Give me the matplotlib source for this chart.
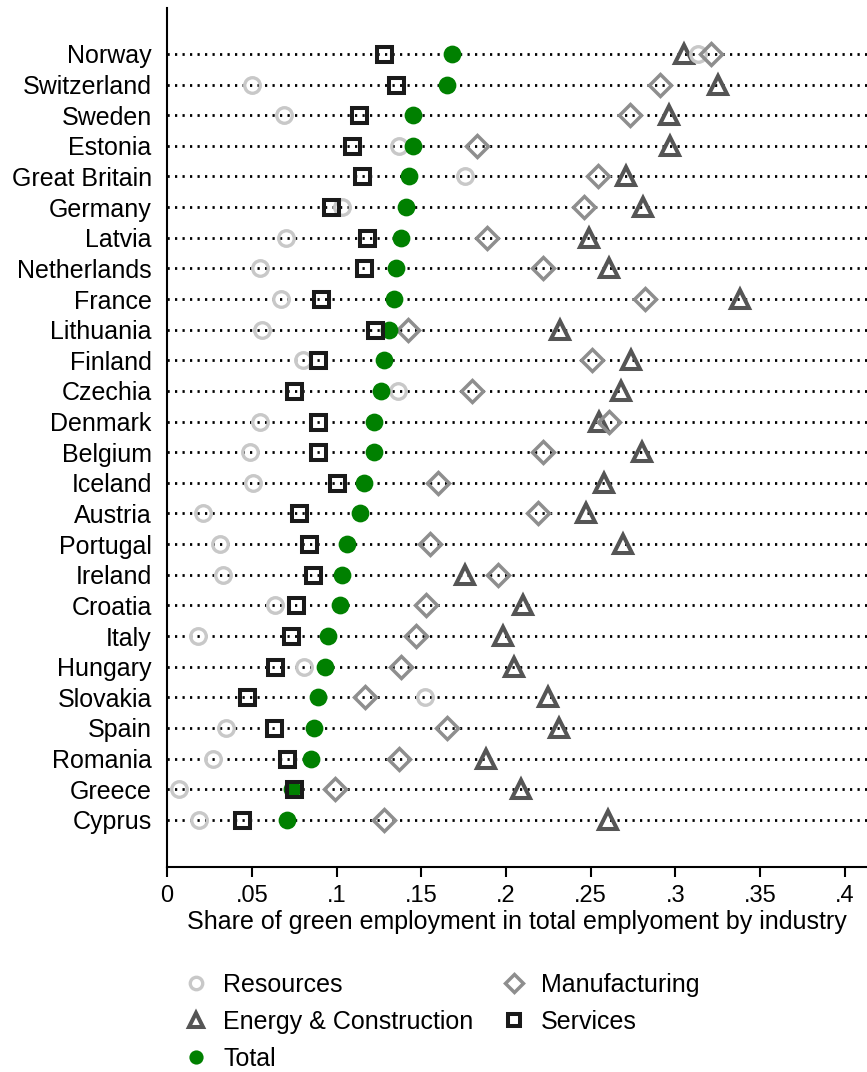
import matplotlib
matplotlib.use("Agg")
import matplotlib.pyplot as plt
import numpy as np

countries = ["Norway", "Switzerland", "Sweden", "Estonia", "Great Britain", "Germany",
             "Latvia", "Netherlands", "France", "Lithuania", "Finland", "Czechia",
             "Denmark", "Belgium", "Iceland", "Austria", "Portugal", "Ireland",
             "Croatia", "Italy", "Hungary", "Slovakia", "Spain", "Romania", "Greece", "Cyprus"]

resources = [0.313, 0.050, 0.069, 0.137, 0.176, 0.103, 0.070, 0.055, 0.067, 0.056,
             0.080, 0.136, 0.055, 0.049, 0.051, 0.021, 0.031, 0.033, 0.064, 0.018,
             0.081, 0.152, 0.035, 0.027, 0.007, 0.019]
manufacturing = [0.321, 0.291, 0.273, 0.183, 0.254, 0.246, 0.189, 0.222, 0.282, 0.142,
                 0.251, 0.180, 0.261, 0.222, 0.160, 0.219, 0.155, 0.195, 0.153, 0.147,
                 0.138, 0.117, 0.165, 0.137, 0.099, 0.128]
energy = [0.305, 0.325, 0.296, 0.297, 0.271, 0.281, 0.249, 0.261, 0.338, 0.232,
          0.274, 0.268, 0.255, 0.280, 0.258, 0.247, 0.269, 0.176, 0.210, 0.198,
          0.205, 0.225, 0.231, 0.188, 0.209, 0.260]
services = [0.128, 0.135, 0.113, 0.109, 0.115, 0.097, 0.118, 0.116, 0.091, 0.123,
            0.089, 0.075, 0.089, 0.089, 0.100, 0.078, 0.084, 0.086, 0.076, 0.073,
            0.064, 0.047, 0.063, 0.071, 0.075, 0.044]
total = [0.168, 0.165, 0.145, 0.145, 0.143, 0.141, 0.138, 0.135, 0.134, 0.131,
         0.128, 0.126, 0.122, 0.122, 0.116, 0.114, 0.106, 0.103, 0.102, 0.095,
         0.093, 0.089, 0.087, 0.085, 0.074, 0.071]

xticks = [0, 0.05, 0.1, 0.15, 0.2, 0.25, 0.3, 0.35, 0.4]
xticklabels = ["0", ".05", ".1", ".15", ".2", ".25", ".3", ".35", ".4"]

plt.rcParams['font.family'] = ['Liberation Sans', 'DejaVu Sans']

fig = plt.figure(figsize=(8.67, 10.72), dpi=100)
ax = fig.add_axes([167/867, 1 - 867/1072, 700/867, 859/1072])

y = np.arange(len(countries))
XMAX = 0.4 * (867 - 167) / 678

for yi in y:
    ax.plot([0, XMAX], [yi, yi], color='black', lw=2.0, linestyle=(0, (0.8, 1.9)),
            zorder=1, dash_capstyle='butt')

h_res, = ax.plot(resources, y, linestyle='none', marker='o', ms=11.2, mew=2.4,
                 mfc='none', mec='#c8c8c8', zorder=4, label='Resources')
h_en, = ax.plot(energy, y, linestyle='none', marker='^', ms=13, mew=2.9,
                mfc='none', mec='#555555', zorder=3, label='Energy & Construction')
h_man, = ax.plot(manufacturing, y, linestyle='none', marker='D', ms=11.2, mew=2.5,
                 mfc='none', mec='#8e8e8e', zorder=5, label='Manufacturing')
h_tot, = ax.plot(total, y, linestyle='none', marker='o', ms=12.8, mew=0,
                 mfc='#008000', mec='#008000', zorder=6, label='Total')
h_srv, = ax.plot(services, y, linestyle='none', marker='s', ms=10.8, mew=2.9,
                 mfc='none', mec='#1a1a1a', zorder=7, label='Services')

ax.set_xlim(0, XMAX)
ax.set_ylim(25 + 1.54, -1.5)
ax.set_yticks(y)
ax.set_yticklabels(countries, fontsize=18)
ax.tick_params(axis='y', length=0, pad=11)
ax.set_xticks(xticks)
ax.set_xticklabels(xticklabels, fontsize=17)
ax.tick_params(axis='x', length=7.5, width=1.5, pad=5.5, direction='out')
ax.set_xlabel("Share of green employment in total emplyoment by industry",
              fontsize=18, labelpad=2)

for s in ['top', 'right']:
    ax.spines[s].set_visible(False)
for s in ['left', 'bottom']:
    ax.spines[s].set_linewidth(1.5)

handles = [h_res, h_en, h_tot, h_man, h_srv]
leg = fig.legend(handles=handles, labels=[h.get_label() for h in handles],
                 ncol=2, loc='upper left', bbox_to_anchor=(183.5/867, 1 - 973/1072),
                 frameon=False, fontsize=18, handlelength=1.0, handletextpad=0.58,
                 columnspacing=1.14, labelspacing=0.52, borderpad=0, borderaxespad=0,
                 markerscale=0.8)

fig.savefig("out.png", dpi=100)
